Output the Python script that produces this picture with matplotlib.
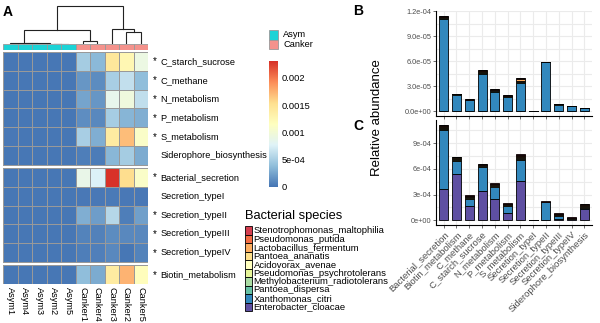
import numpy as np
import matplotlib
matplotlib.use("Agg")
import matplotlib.pyplot as plt
from matplotlib.colors import LinearSegmentedColormap
from matplotlib.patches import Rectangle

plt.rcParams["font.family"] = ["Liberation Sans", "DejaVu Sans"]

# ---------------- panel A data ----------------
samples = ["Asym1", "Asym4", "Asym3", "Asym2", "Asym5",
           "Canker1", "Canker4", "Canker3", "Canker2", "Canker5"]
sample_group = ["Asym"] * 5 + ["Canker"] * 5
group_colors = {"Asym": "#1CD3D6", "Canker": "#F4928C"}

pathways = ["C_starch_sucrose", "C_methane", "N_metabolism", "P_metabolism",
            "S_metabolism", "Siderophore_biosynthesis", "Bacterial_secretion",
            "Secretion_typeI", "Secretion_typeII", "Secretion_typeIII",
            "Secretion_typeIV", "Biotin_metabolism"]
signif = [1, 1, 1, 1, 1, 0, 1, 0, 1, 1, 1, 1]
row_blocks = [6, 5, 1]

c_starch_sucrose = [1e-5, 1e-5, 1e-5, 1e-5, 1e-5, 4.8e-4, 3.6e-4, 1.45e-3, 1.25e-3, 9.2e-4]
c_methane = [1e-5, 1e-5, 1e-5, 1e-5, 1e-5, 1.8e-4, 1.2e-4, 5.0e-4, 6.3e-4, 3.8e-4]
n_metabolism = [1e-5, 1e-5, 1e-5, 1e-5, 1e-5, 2.5e-4, 1.8e-4, 8.5e-4, 9.5e-4, 6.2e-4]
p_metabolism = [1e-5, 1e-5, 1e-5, 1e-5, 1e-5, 1.3e-4, 1.0e-4, 4.9e-4, 3.4e-4, 3.0e-4]
s_metabolism = [2e-5, 1e-5, 1e-5, 1e-5, 1e-5, 5.0e-4, 3.0e-4, 1.4e-3, 1.7e-3, 1.1e-3]
siderophore = [1e-5, 1e-5, 1e-5, 1e-5, 1e-5, 5e-5, 4e-5, 3.5e-4, 4.8e-4, 2.8e-4]
bact_secretion = [1e-5, 1e-5, 1e-5, 1e-5, 1e-5, 8.8e-4, 7.5e-4, 2.3e-3, 1.55e-3, 1.1e-3]
secretion_t1 = [1e-5, 1e-5, 1e-5, 1e-5, 1e-5, 2e-5, 2e-5, 3e-5, 2e-5, 2e-5]
secretion_t2 = [1e-5, 1e-5, 1e-5, 1e-5, 1e-5, 3.0e-4, 2.1e-4, 5.6e-4, 5e-5, 2.2e-4]
secretion_t3 = [1e-5, 1e-5, 1e-5, 1e-5, 1e-5, 8e-5, 7e-5, 1.2e-4, 1.0e-4, 1.0e-4]
secretion_t4 = [1e-5, 1e-5, 1e-5, 1e-5, 1e-5, 5e-5, 6e-5, 1.0e-4, 1e-5, 8e-5]
biotin = [1e-5, 1e-5, 1e-5, 1e-5, 1e-5, 3.8e-4, 2.8e-4, 1.4e-3, 1.75e-3, 1.18e-3]

# column clustering (leaf ids 0-9, merged nodes 10+): left, right, height
col_merges = [(3, 4, 0.3), (2, 10, 0.5), (1, 11, 0.7), (0, 12, 0.9),
              (5, 6, 3.0), (8, 9, 12.0), (7, 15, 15.0), (13, 14, 14.0),
              (17, 16, 38.0)]

cb_ticks = [0, 5e-4, 1e-3, 1.5e-3, 2e-3]
cb_labels = ["0", "5e-04", "0.001", "0.0015", "0.002"]

# ---------------- panels B / C data ----------------
functions = ["Bacterial_secretion", "Biotin_metabolism", "C_methane",
             "C_starch_sucrose", "N_metabolism", "P_metabolism", "S_metabolism",
             "Secretion_typeI", "Secretion_typeII", "Secretion_typeIII",
             "Secretion_typeIV", "Siderophore_biosynthesis"]
species = ["Stenotrophomonas_maltophilia", "Pseudomonas_putida",
           "Lactobacillus_fermentum", "Pantoea_ananatis", "Acidovorax_avenae",
           "Pseudomonas_psychrotolerans", "Methylobacterium_radiotolerans",
           "Pantoea_dispersa", "Xanthomonas_citri", "Enterobacter_cloacae"]
species_colors = ["#D53E4F", "#F46D43", "#FDAE61", "#FEE08B", "#FFFFBF",
                  "#E6F598", "#ABDDA4", "#66C2A5", "#3288BD", "#5E4FA2"]

# Asym (panel B)
asym_steno = [6e-7, 2e-7, 2e-7, 8e-7, 6e-7, 3e-7, 6e-7, 2e-7, 2e-7, 1e-7, 1e-7, 1e-7]
asym_putida = [6e-7, 2e-7, 2e-7, 8e-7, 6e-7, 3e-7, 6e-7, 1e-7, 1e-7, 1e-7, 1e-7, 1e-7]
asym_lacto = [0, 0, 0, 0, 0, 0, 2.0e-6, 0, 0, 0, 0, 0]
asym_ananatis = [6e-7, 2e-7, 1e-7, 8e-7, 6e-7, 3e-7, 6e-7, 0, 0, 1e-7, 0, 0]
asym_acidovorax = [6e-7, 2e-7, 1e-7, 8e-7, 6e-7, 3e-7, 6e-7, 0, 0, 1e-7, 0, 0]
asym_psychro = [6e-7, 2e-7, 1e-7, 8e-7, 6e-7, 2e-7, 6e-7, 0, 0, 0, 0, 0]
asym_methylo = [3e-7, 2e-7, 1e-7, 5e-7, 4e-7, 2e-7, 3e-7, 0, 0, 0, 0, 0]
asym_dispersa = [3e-7, 2e-7, 1e-7, 5e-7, 4e-7, 2e-7, 3e-7, 0, 0, 0, 0, 0]
asym_xantho = [1.11e-4, 1.95e-5, 1.32e-5, 4.48e-5, 2.32e-5, 1.72e-5, 3.42e-5,
               0, 5.92e-5, 7.8e-6, 6.4e-6, 4.0e-6]
asym_entero = [0, 0, 0, 0, 0, 0, 0, 0, 0, 0, 0, 0]

# Canker (panel C)
canker_steno = [8e-6, 5e-6, 7e-6, 5e-6, 9e-6, 5e-6, 1.1e-5, 1e-6, 2e-6, 5e-6, 2e-6, 8e-6]
canker_putida = [8e-6, 6e-6, 7e-6, 5e-6, 8e-6, 4e-6, 1.0e-5, 1e-6, 2e-6, 5e-6, 2e-6, 9e-6]
canker_lacto = [8e-6, 6e-6, 7e-6, 5e-6, 8e-6, 4e-6, 1.0e-5, 1e-6, 2e-6, 4e-6, 2e-6, 9e-6]
canker_ananatis = [8e-6, 7e-6, 8e-6, 5e-6, 8e-6, 4e-6, 1.0e-5, 1e-6, 2e-6, 5e-6, 2e-6, 9e-6]
canker_acidovorax = [9e-6, 7e-6, 8e-6, 5e-6, 8e-6, 5e-6, 1.0e-5, 1e-6, 1e-6, 5e-6, 2e-6, 9e-6]
canker_psychro = [9e-6, 7e-6, 8e-6, 6e-6, 9e-6, 5e-6, 1.1e-5, 1e-6, 1e-6, 5e-6, 3e-6, 9e-6]
canker_methylo = [3e-6, 1.4e-5, 0, 2e-6, 0, 0, 3e-6, 0, 0, 0, 0, 0]
canker_dispersa = [7e-6, 6e-6, 0, 8e-6, 0, 0, 7e-6, 0, 0, 0, 0, 0]
canker_xantho = [6.9e-4, 1.47e-4, 8.5e-5, 2.74e-4, 1.35e-4, 8.5e-5, 2.37e-4,
                 0, 2.1e-4, 3.0e-5, 1.0e-5, 5e-6]
canker_entero = [3.66e-4, 5.4e-4, 1.65e-4, 3.46e-4, 2.5e-4, 8.7e-5, 4.63e-4,
                 0, 0, 2.0e-5, 1.0e-5, 1.34e-4]

W, H = 600, 323
fig = plt.figure(figsize=(W / 100, H / 100), dpi=100)


def box(x0, y0, w, h):
    """pixel box (from top-left) -> figure fraction rect"""
    return [x0 / W, 1 - (y0 + h) / H, w / W, h / H]


# overlay axes for free text / legends, in pixel units
ov = fig.add_axes([0, 0, 1, 1])
ov.set_xlim(0, W)
ov.set_ylim(H, 0)
ov.axis("off")

# ---- heatmap
cmap = LinearSegmentedColormap.from_list(
    "rdylbu", ["#4575B4", "#91BFDB", "#E0F3F8", "#FFFFBF", "#FEE090", "#FC8D59", "#D73027"])
vmax = 0.00231
mat = np.array([c_starch_sucrose, c_methane, n_metabolism, p_metabolism,
                s_metabolism, siderophore, bact_secretion, secretion_t1,
                secretion_t2, secretion_t3, secretion_t4, biotin])

gap = 0.16
hm = fig.add_axes(box(3, 52, 145, 232))
total = sum(row_blocks) + gap * (len(row_blocks) - 1)
row_y = []
start = 0
y0 = 0.0
for n in row_blocks:
    block = mat[start:start + n]
    hm.pcolormesh(np.arange(len(samples) + 1), y0 + np.arange(n + 1), block,
                  cmap=cmap, vmin=0, vmax=vmax, edgecolors="#999999", linewidth=0.6)
    row_y += list(y0 + np.arange(n) + 0.5)
    start += n
    y0 += n + gap
hm.set_xlim(0, len(samples))
hm.set_ylim(total, 0)
hm.axis("off")

for name, yy, s in zip(pathways, row_y, signif):
    if s:
        hm.text(10.3, yy, "*", fontsize=7, ha="left", va="center", clip_on=False)
    hm.text(10.85, yy, name, fontsize=6.7, ha="left", va="center", clip_on=False)
for i, name in enumerate(samples):
    hm.text(i + 0.5, total + 0.15, name, fontsize=6.6, rotation=270,
            ha="center", va="top", clip_on=False)

# annotation bar
an = fig.add_axes(box(3, 44.3, 145, 5.7))
for i, g in enumerate(sample_group):
    an.add_patch(Rectangle((i, 0), 1, 1, facecolor=group_colors[g],
                           edgecolor="#999999", linewidth=0.6))
an.set_xlim(0, len(samples))
an.set_ylim(0, 1)
an.axis("off")

# dendrogram
dn = fig.add_axes(box(3, 4, 145, 40))
pos = {i: i + 0.5 for i in range(len(samples))}
hgt = {i: 0.0 for i in range(len(samples))}
for k, (a, b, h) in enumerate(col_merges):
    node = len(samples) + k
    xa, xb = pos[a], pos[b]
    dn.plot([xa, xa, xb, xb], [hgt[a], h, h, hgt[b]], color="#222222", lw=0.8,
            solid_joinstyle="miter")
    pos[node] = (xa + xb) / 2
    hgt[node] = h
dn.set_xlim(0, len(samples))
dn.set_ylim(0, 40)
dn.axis("off")

# group legend
for i, g in enumerate(["Asym", "Canker"]):
    ov.add_patch(Rectangle((269, 30 + i * 9.6), 9, 9.6, facecolor=group_colors[g],
                           edgecolor="#999999", linewidth=0.6))
    ov.text(283, 30 + i * 9.6 + 4.8, g, fontsize=6.7, va="center", ha="left")

# colour bar
cb = fig.add_axes(box(269, 61, 9, 126))
cb.imshow(np.linspace(0, vmax, 256)[:, None], aspect="auto", origin="lower",
          extent=[0, 1, 0, vmax], cmap=cmap, vmin=0, vmax=vmax)
cb.set_xlim(0, 1)
cb.set_ylim(0, vmax)
cb.set_xticks([])
cb.yaxis.tick_right()
cb.set_yticks(cb_ticks)
cb.set_yticklabels(cb_labels, fontsize=6.7)
cb.tick_params(axis="y", length=0, pad=2.5)
for sp in cb.spines.values():
    sp.set_visible(False)

# species legend
ov.text(245, 216, "Bacterial species", fontsize=9.3, ha="left", va="center")
for i, (sp_name, col) in enumerate(zip(species, species_colors)):
    ov.add_patch(Rectangle((245, 226 + i * 8.5), 6.5, 8.5, facecolor=col,
                           edgecolor="black", linewidth=0.6))
    ov.text(253.5, 226 + i * 8.5 + 4.5, sp_name, fontsize=6.8, ha="left", va="center")

# panel letters
ov.text(8, 12, "A", fontsize=10, fontweight="bold", ha="center", va="center")
ov.text(358, 11, "B", fontsize=10, fontweight="bold", ha="center", va="center")
ov.text(358, 126, "C", fontsize=10, fontweight="bold", ha="center", va="center")

# ---------------- stacked bars ----------------
asym_layers = [asym_entero, asym_xantho, asym_dispersa, asym_methylo, asym_psychro,
               asym_acidovorax, asym_ananatis, asym_lacto, asym_putida, asym_steno]
canker_layers = [canker_entero, canker_xantho, canker_dispersa, canker_methylo,
                 canker_psychro, canker_acidovorax, canker_ananatis, canker_lacto,
                 canker_putida, canker_steno]
layer_colors = species_colors[::-1]


def stacked(ax, layers, major, minor, labels, show_x):
    x = np.arange(len(functions))
    bottom = np.zeros(len(functions))
    for vals, col in zip(layers, layer_colors):
        vals = np.array(vals, dtype=float)
        ax.bar(x, vals, 0.7, bottom=bottom, color=col, edgecolor="black",
               linewidth=0.6, zorder=3)
        bottom += vals
    top = bottom.max()
    ax.set_ylim(-0.05 * top, 1.05 * top)
    ax.set_xlim(-0.6, len(functions) - 0.4)
    ax.set_yticks(major)
    ax.set_yticklabels(labels, fontsize=5.3, color="#4D4D4D")
    ax.set_yticks(minor, minor=True)
    ax.set_xticks(x)
    ax.grid(axis="y", which="both", color="#EBEBEB", linewidth=0.8, zorder=0)
    ax.grid(axis="x", which="major", color="#EBEBEB", linewidth=0.8, zorder=0)
    ax.set_axisbelow(True)
    ax.tick_params(axis="both", which="major", length=2, width=0.5, color="#333333", pad=1.5)
    ax.tick_params(axis="y", which="minor", length=0)
    for s in ["top", "right"]:
        ax.spines[s].set_visible(False)
    for s in ["left", "bottom"]:
        ax.spines[s].set_linewidth(0.8)
    if show_x:
        ax.set_xticklabels(functions, rotation=45, ha="right", rotation_mode="anchor",
                           fontsize=6.8, color="#4D4D4D")
    else:
        ax.set_xticklabels([])


axb = fig.add_axes(box(436, 10.9, 156, 104.9))
stacked(axb, asym_layers, [0, 3e-5, 6e-5, 9e-5, 1.2e-4],
        [1.5e-5, 4.5e-5, 7.5e-5, 1.05e-4],
        ["0.0e+00", "3.0e-05", "6.0e-05", "9.0e-05", "1.2e-04"], False)

axc = fig.add_axes(box(436, 120, 156, 105))
stacked(axc, canker_layers, [0, 3e-4, 6e-4, 9e-4],
        [1.5e-4, 4.5e-4, 7.5e-4, 1.05e-3],
        ["0e+00", "3e-04", "6e-04", "9e-04"], True)

ov.text(377, 118, "Relative abundance", fontsize=9.5, rotation=90,
        ha="center", va="center")

fig.savefig("out.png", dpi=100)
